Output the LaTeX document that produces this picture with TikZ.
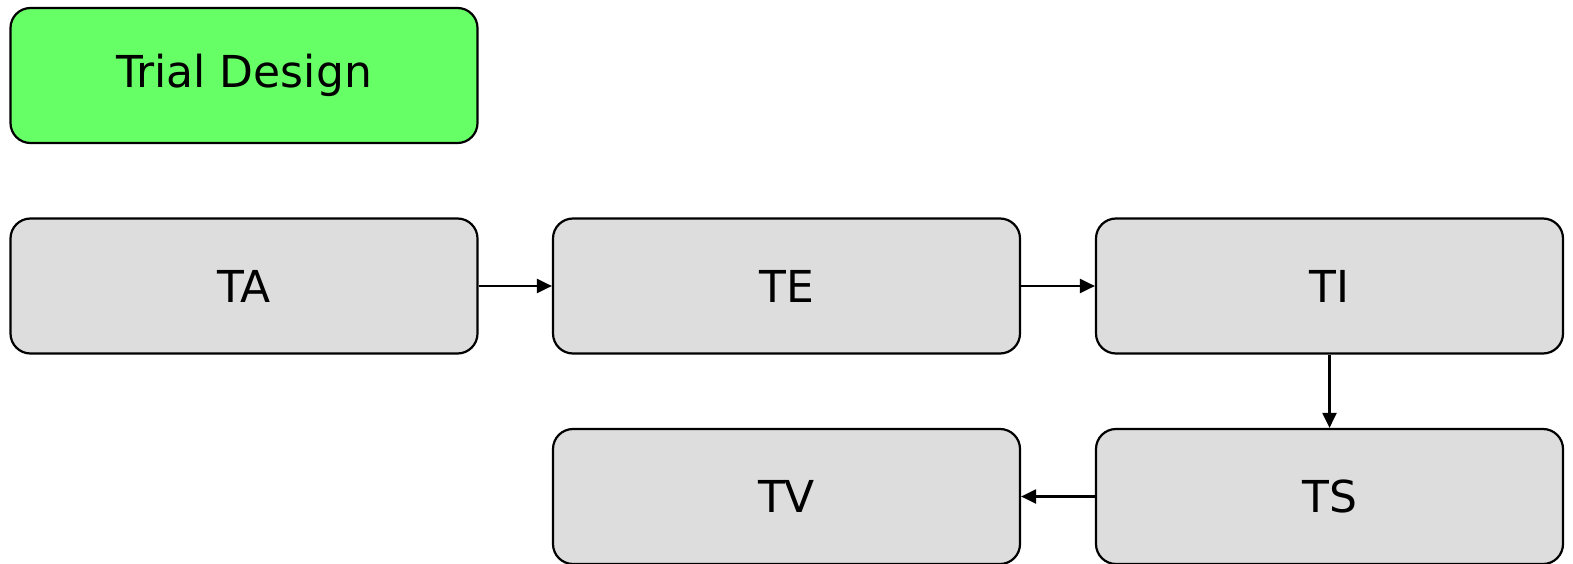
\documentclass[tikz,border=0pt]{standalone}
\usepackage{fontspec}
\setmainfont{DejaVu Sans}
\usetikzlibrary{arrows.meta}

\definecolor{designgreen}{HTML}{66FF66}
\definecolor{domaingray}{HTML}{DDDDDD}

\begin{document}
\begin{tikzpicture}[x=1pt, y=-1pt]
    \tikzstyle{domain box} = [draw=black, fill=domaingray, line width=2.2pt, rounded corners=20pt,
        minimum width=467pt, minimum height=135pt, inner sep=0pt,
        font=\fontsize{44}{52}\selectfont]
    \tikzstyle{design box} = [domain box, fill=designgreen]
    \tikzstyle{flow edge} = [draw=black, line width=2.2pt, -{Triangle[length=15pt, width=14pt]}]
\useasboundingbox (0, 0) rectangle (1573, 564);
\node[design box] (design) at (244, 75.5) {Trial Design};
\node[domain box] (ta) at (244, 286) {TA};
\node[domain box] (te) at (786.5, 286) {TE};
\node[domain box] (ti) at (1329.5, 286) {TI};
\node[domain box] (ts) at (1329.5, 496.5) {TS};
\node[domain box] (tv) at (786.5, 496.5) {TV};
\draw[flow edge] (ta) -- (te);
\draw[flow edge] (te) -- (ti);
\draw[flow edge] (ti) -- (ts);
\draw[flow edge] (ts) -- (tv);
\end{tikzpicture}
\end{document}
